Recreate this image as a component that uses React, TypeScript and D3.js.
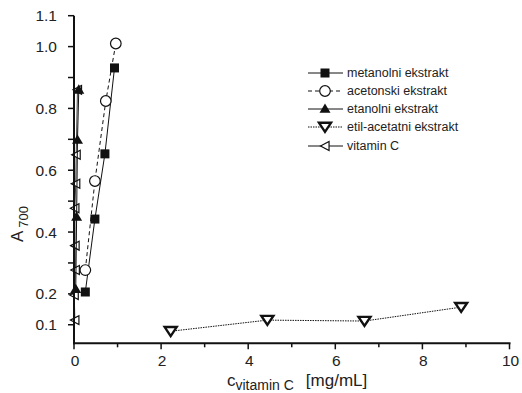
import React from 'react';
import * as d3 from 'd3';

// metanolni ekstrakt
const metX = [0.26, 0.48, 0.71, 0.93];
const metY = [0.206, 0.442, 0.653, 0.931];
// acetonski ekstrakt
const aceX = [0.26, 0.48, 0.73, 0.96];
const aceY = [0.277, 0.565, 0.824, 1.01];
// etanolni ekstrakt
const etaX = [0.04, 0.06, 0.08, 0.11];
const etaY = [0.215, 0.449, 0.698, 0.86];
// etil-acetatni ekstrakt
const etilX = [2.22, 4.44, 6.67, 8.89];
const etilY = [0.079, 0.115, 0.112, 0.157];
// vitamin C
const vitX = [0.02, 0.005, 0.03, 0.025, 0.02, 0.04, 0.05, 0.08];
const vitY = [0.115, 0.196, 0.277, 0.356, 0.477, 0.556, 0.65, 0.86];

const xTicks = [0, 2, 4, 6, 8, 10];
const xMinor = [1, 3, 5, 7, 9];
const yTicks = [0.1, 0.2, 0.4, 0.6, 0.8, 1.0, 1.1];
const yTickLabels = ['0.1', '0.2', '0.4', '0.6', '0.8', '1.0', '1.1'];
const yMinor = [0.3, 0.5, 0.7, 0.9];

const legendLabels = ['metanolni ekstrakt', 'acetonski ekstrakt', 'etanolni ekstrakt', 'etil-acetatni ekstrakt', 'vitamin C'];

const W = 522, H = 393;
const x = d3.scaleLinear().domain([0, 10]).range([74, 509.5]);
const y = d3.scaleLinear().domain([0.04, 1.1]).range([343.3, 15.7]);

const font = '"Liberation Sans", Arial, sans-serif';

type Kind = 'square' | 'circle' | 'up' | 'down' | 'left';

function Marker({ kind, cx, cy }: { kind: Kind; cx: number; cy: number }) {
  if (kind === 'square') return <rect x={cx - 4.5} y={cy - 4.5} width={9} height={9} fill="#111" />;
  if (kind === 'circle') return <circle cx={cx} cy={cy} r={5.3} fill="#fff" stroke="#111" strokeWidth={1.2} />;
  if (kind === 'up') {
    const s = 5.5;
    return <path d={`M${cx},${cy - s}L${cx + s},${cy + s * 0.7}L${cx - s},${cy + s * 0.7}Z`} fill="#111" />;
  }
  if (kind === 'down') {
    const s = 6;
    return <path d={`M${cx - s},${cy - s * 0.7}L${cx + s},${cy - s * 0.7}L${cx},${cy + s * 0.8}Z`} fill="#fff" stroke="#111" strokeWidth={2.4} strokeLinejoin="miter" />;
  }
  const s = 4.5;
  return <path d={`M${cx - s},${cy}L${cx + s * 0.9},${cy - s}L${cx + s * 0.9},${cy + s}Z`} fill="#fff" stroke="#111" strokeWidth={1.2} />;
}

const series: { xs: number[]; ys: number[]; kind: Kind; dash?: string; width: number; color: string }[] = [
  { xs: vitX, ys: vitY, kind: 'left', width: 1, color: '#444' },
  { xs: etaX, ys: etaY, kind: 'up', width: 1, color: '#111' },
  { xs: metX, ys: metY, kind: 'square', width: 1, color: '#111' },
  { xs: aceX, ys: aceY, kind: 'circle', dash: '4,3', width: 1, color: '#111' },
  { xs: etilX, ys: etilY, kind: 'down', dash: '1.5,1', width: 1, color: '#111' },
];

const legendKinds: { kind: Kind; dash?: string }[] = [
  { kind: 'square' },
  { kind: 'circle', dash: '4,3' },
  { kind: 'up' },
  { kind: 'down', dash: '1.5,1' },
  { kind: 'left' },
];
const legendY = [73, 91, 109, 127, 146];

export default function App() {
  const line = d3.line<[number, number]>().x(d => x(d[0])).y(d => y(d[1]));
  return (
    <svg width={W} height={H} style={{ position: 'absolute', left: 0, top: 0, background: '#fff' }} fontFamily={font}>
      {/* series */}
      {series.map((s, i) => {
        const pts = s.xs.map((v, j) => [v, s.ys[j]] as [number, number]);
        return (
          <g key={i}>
            <path d={line(pts) || ''} fill="none" stroke={s.color} strokeWidth={s.width} strokeDasharray={s.dash} />
            {pts.map((p, j) => <Marker key={j} kind={s.kind} cx={x(p[0])} cy={y(p[1])} />)}
          </g>
        );
      })}
      {/* axes */}
      <line x1={x(0)} x2={x(0)} y1={y(1.1)} y2={y(0.04) + 1} stroke="#111" strokeWidth={2} />
      <line x1={x(0) - 1} x2={x(10) + 1} y1={y(0.04)} y2={y(0.04)} stroke="#111" strokeWidth={2} />
      {yTicks.map((t, i) => (
        <g key={t}>
          <line x1={x(0) - 6} x2={x(0)} y1={y(t)} y2={y(t)} stroke="#111" strokeWidth={1.5} />
          <text x={x(0) - 17} y={y(t)} dy="0.36em" textAnchor="end" fontSize={15.5} fill="#222">{yTickLabels[i]}</text>
        </g>
      ))}
      {yMinor.map(t => <line key={t} x1={x(0) - 6} x2={x(0)} y1={y(t)} y2={y(t)} stroke="#111" strokeWidth={1.5} />)}
      {xTicks.map(t => (
        <g key={t}>
          <line x1={x(t)} x2={x(t)} y1={y(0.04)} y2={y(0.04) + 6} stroke="#111" strokeWidth={1.5} />
          <text x={x(t) + 1} y={y(0.04) + 23} textAnchor="middle" fontSize={15.5} fill="#222">{t}</text>
        </g>
      ))}
      {xMinor.map(t => <line key={t} x1={x(t)} x2={x(t)} y1={y(0.04)} y2={y(0.04) + 4} stroke="#111" strokeWidth={1.5} />)}
      {/* axis titles */}
      <text transform="translate(23,242) rotate(-90)" fontSize={17} fill="#222">
        A<tspan fontSize={13} dy={5} dx={3}>700</tspan>
      </text>
      <text x={227} y={386} fontSize={17} fill="#222">
        c<tspan fontSize={14} dy={4}>vitamin C</tspan><tspan dy={-4} dx={12}>[mg/mL]</tspan>
      </text>
      {/* legend */}
      {legendKinds.map((l, i) => (
        <g key={i}>
          <line x1={308} x2={343} y1={legendY[i]} y2={legendY[i]} stroke="#111" strokeWidth={1} strokeDasharray={l.dash} />
          <Marker kind={l.kind} cx={325} cy={legendY[i]} />
          <text x={347} y={legendY[i]} dy="0.35em" fontSize={12.5} fill="#222">{legendLabels[i]}</text>
        </g>
      ))}
    </svg>
  );
}
